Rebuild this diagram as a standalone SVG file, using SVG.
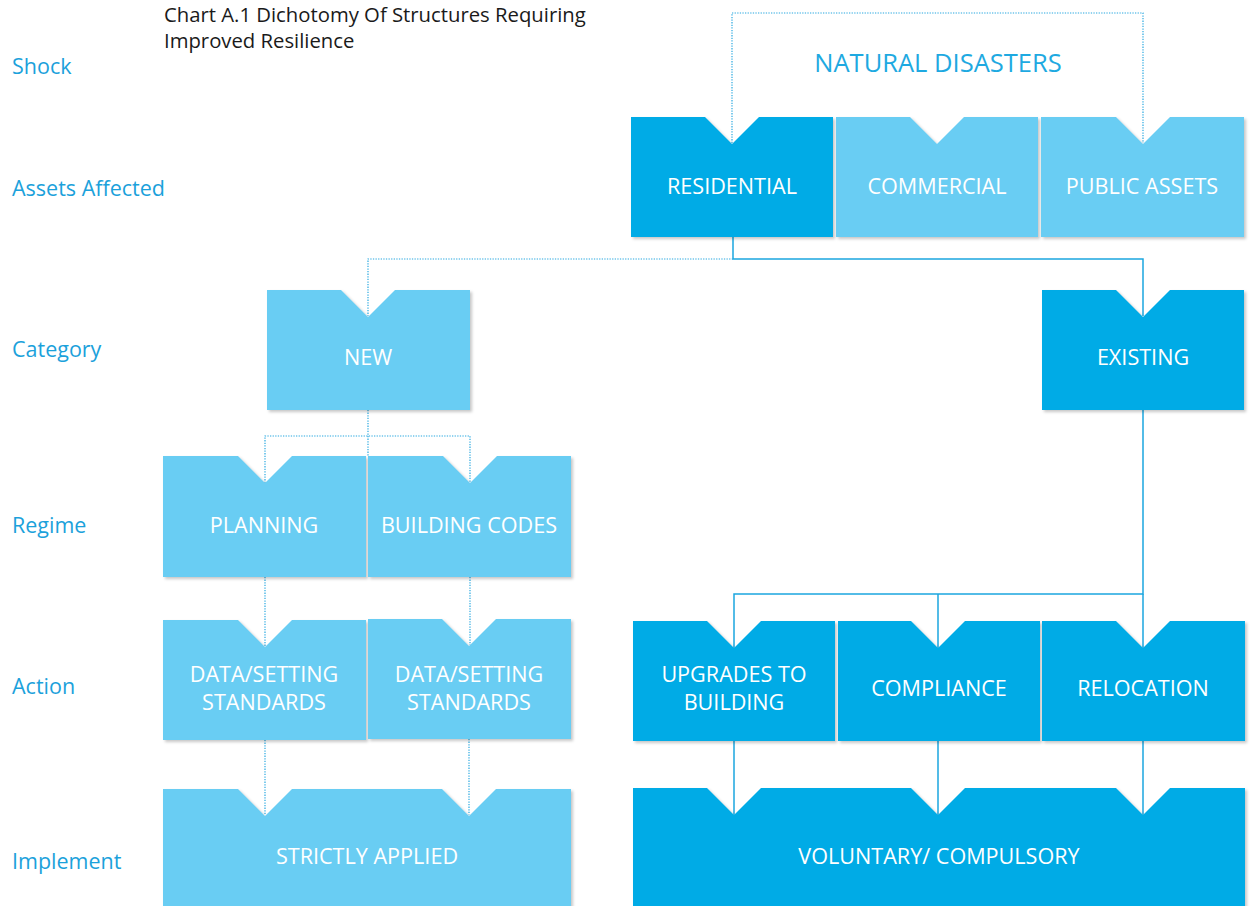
<svg xmlns="http://www.w3.org/2000/svg" width="1254" height="906" viewBox="0 0 1254 906">
<defs>
<filter id="sh" x="-5%" y="-5%" width="115%" height="120%">
<feDropShadow dx="2" dy="2" stdDeviation="1.5" flood-color="#000" flood-opacity="0.22"/>
</filter>
<style>
.dark{fill:#00abe6;filter:url(#sh)}
.light{fill:#69cdf3;filter:url(#sh)}
.bt{font-family:"Open Sans","Noto Sans",sans-serif;font-size:21.6px;font-weight:500;fill:#fff;text-anchor:middle}
.rl{font-family:"Open Sans","Noto Sans",sans-serif;font-size:21.5px;font-weight:500;fill:#1ba1db}
.title{font-family:"Open Sans","Noto Sans",sans-serif;font-size:20.3px;fill:#1a1a1a}
.dot{fill:none;stroke:#29a8e0;stroke-width:1.2;stroke-dasharray:1.3 1.3}
.sol{fill:none;stroke:#1ba6df;stroke-width:1.5}
</style>
</defs>
<rect width="1254" height="906" fill="#fff"/>

<g id="title">
<text class="title" x="164" y="22">Chart A.1 Dichotomy Of Structures Requiring</text>
<text class="title" x="164" y="48">Improved Resilience</text>
</g>

<g id="row-labels">
<text class="rl" x="12" y="74">Shock</text>
<text class="rl" x="12" y="196">Assets Affected</text>
<text class="rl" x="12" y="357">Category</text>
<text class="rl" x="12" y="533">Regime</text>
<text class="rl" x="12" y="694">Action</text>
<text class="rl" x="12" y="869">Implement</text>
</g>

<g id="natural-disasters">
<text x="938" y="72" font-family="'Open Sans','Noto Sans',sans-serif" font-size="25.5" fill="#1ea9e1" text-anchor="middle">NATURAL DISASTERS</text>
</g>

<g id="connectors">
<path class="dot" d="M732,143 V13 H1143 V143"/>
<path class="sol" d="M733,237 V259 H1143 V316"/>
<path class="dot" d="M733,259 H368 V316"/>
<path class="dot" d="M368,410 V456"/>
<path class="dot" d="M265,483 V436 H470 V483"/>
<path class="dot" d="M265,577 V647"/>
<path class="dot" d="M470,577 V645"/>
<path class="dot" d="M265,740 V815"/>
<path class="dot" d="M469,739 V815"/>
<path class="sol" d="M1143,410 V594 H734 V648"/>
<path class="sol" d="M938,594 V648"/>
<path class="sol" d="M1143,594 V648"/>
<path class="sol" d="M734,741 V816"/>
<path class="sol" d="M938,741 V816"/>
<path class="sol" d="M1143,741 V816"/>
</g>

<g id="residential">
<path class="dark" d="M631,117 H705 L732,144 L759,117 H833 V237 H631 Z"/>
<text class="bt" x="732" y="194">RESIDENTIAL</text>
</g>
<g id="commercial">
<path class="light" d="M836,117 H910 L937,144 L964,117 H1038 V237 H836 Z"/>
<text class="bt" x="937" y="194">COMMERCIAL</text>
</g>
<g id="public-assets">
<path class="light" d="M1041,117 H1116 L1143,144 L1170,117 H1244 V237 H1041 Z"/>
<text class="bt" x="1142" y="194">PUBLIC ASSETS</text>
</g>

<g id="new">
<path class="light" d="M267,290 H341 L368,317 L395,290 H470 V410 H267 Z"/>
<text class="bt" x="368" y="365">NEW</text>
</g>
<g id="existing">
<path class="dark" d="M1042,290 H1116 L1143,317 L1170,290 H1244 V410 H1042 Z"/>
<text class="bt" x="1143" y="365">EXISTING</text>
</g>

<g id="planning">
<path class="light" d="M163,456 H238 L265,483 L292,456 H366 V577 H163 Z"/>
<text class="bt" x="264" y="533">PLANNING</text>
</g>
<g id="building-codes">
<path class="light" d="M368,456 H443 L470,483 L497,456 H571 V577 H368 Z"/>
<text class="bt" x="469" y="533">BUILDING CODES</text>
</g>

<g id="data-setting-1">
<path class="light" d="M163,620 H238 L265,647 L292,620 H366 V740 H163 Z"/>
<text class="bt" x="264" y="682">DATA/SETTING</text>
<text class="bt" x="264" y="710">STANDARDS</text>
</g>
<g id="data-setting-2">
<path class="light" d="M368,619 H442 L469,646 L496,619 H571 V739 H368 Z"/>
<text class="bt" x="469" y="682">DATA/SETTING</text>
<text class="bt" x="469" y="710">STANDARDS</text>
</g>

<g id="upgrades">
<path class="dark" d="M633,621 H707 L734,648 L761,621 H835 V741 H633 Z"/>
<text class="bt" x="734" y="682">UPGRADES TO</text>
<text class="bt" x="734" y="710">BUILDING</text>
</g>
<g id="compliance">
<path class="dark" d="M838,621 H911 L938,648 L965,621 H1040 V741 H838 Z"/>
<text class="bt" x="939" y="696">COMPLIANCE</text>
</g>
<g id="relocation">
<path class="dark" d="M1042,621 H1116 L1143,648 L1170,621 H1245 V741 H1042 Z"/>
<text class="bt" x="1143" y="696">RELOCATION</text>
</g>

<g id="strictly-applied">
<path class="light" d="M163,789 H238 L265,816 L292,789 H442 L469,816 L496,789 H571 V920 H163 Z"/>
<text class="bt" x="367" y="864">STRICTLY APPLIED</text>
</g>
<g id="voluntary-compulsory">
<path class="dark" d="M633,788 H707 L734,815 L761,788 H911 L938,815 L965,788 H1116 L1143,815 L1170,788 H1245 V920 H633 Z"/>
<text class="bt" x="939" y="864">VOLUNTARY/ COMPULSORY</text>
</g>
</svg>
